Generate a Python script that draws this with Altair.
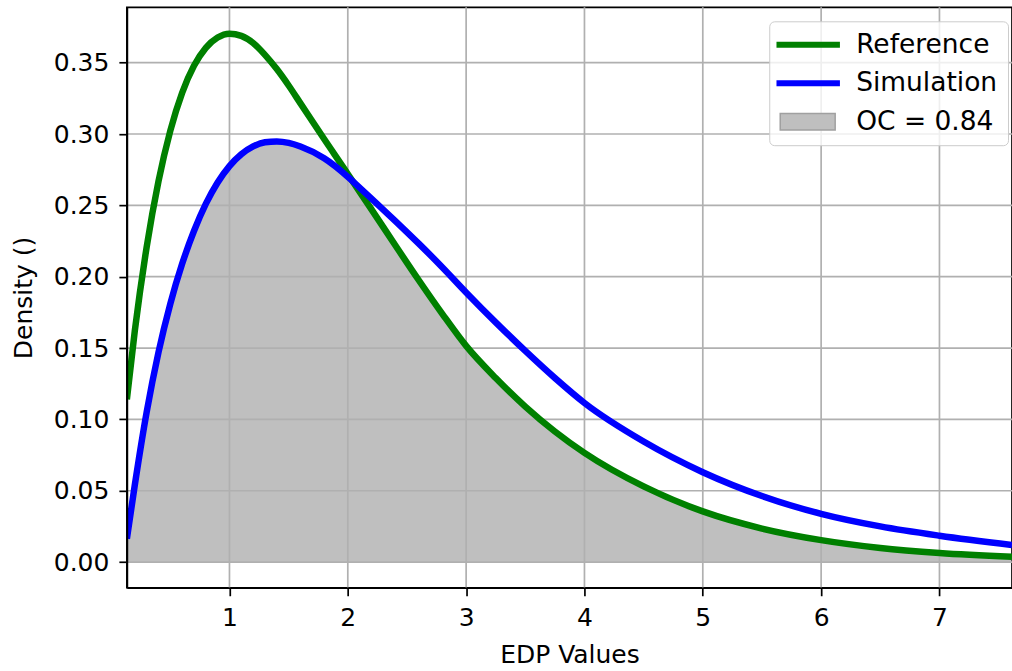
import altair as alt
import pandas as pd

# ---- values ----
edp = [0.133, 0.2, 0.3, 0.4, 0.5, 0.6, 0.7, 0.8, 0.9,
       1.0, 1.1, 1.2, 1.3, 1.4, 1.5, 1.6, 1.8, 2.0, 2.04,
       2.2, 2.4, 2.6, 2.8, 3.0, 3.25, 3.5, 3.75, 4.0, 4.5,
       5.0, 5.5, 6.0, 6.5, 7.0, 7.613]
reference = [0.114, 0.162, 0.2207, 0.2668, 0.3023, 0.3289, 0.3478, 0.3604, 0.3676,
             0.3703, 0.3688, 0.3638, 0.3555, 0.3455, 0.3340, 0.3215, 0.2965, 0.2720, 0.2670,
             0.2472, 0.2222, 0.1975, 0.1738, 0.1515, 0.1290, 0.1090, 0.0915, 0.0765, 0.0530,
             0.0355, 0.0235, 0.0154, 0.0099, 0.0064, 0.0037]
simulation = [0.0164, 0.054, 0.105, 0.147, 0.181, 0.209, 0.232, 0.251, 0.266,
              0.2775, 0.2858, 0.2913, 0.2942, 0.2948, 0.2938, 0.2912, 0.2830, 0.2700, 0.2670,
              0.2548, 0.2392, 0.2232, 0.2065, 0.1890, 0.1680, 0.1480, 0.1290, 0.1115, 0.0845,
              0.0630, 0.0463, 0.0338, 0.0250, 0.0185, 0.0120]

x_ticks = [1, 2, 3, 4, 5, 6, 7]
y_ticks = [0.0, 0.05, 0.10, 0.15, 0.20, 0.25, 0.30, 0.35]
legend_labels = ["Reference", "Simulation", "OC = 0.84"]
legend_fill = ["#008000", "#0000ff", "#bfbfbf"]
legend_stroke = ["#008000", "#0000ff", "#a0a0a0"]

X_DOMAIN = [0.133, 7.613]
Y_DOMAIN = [-0.018, 0.3888]
FONT = "DejaVu Sans"

df = pd.DataFrame({"x": edp, "ref": reference, "sim": simulation})
df["overlap"] = df[["ref", "sim"]].min(axis=1)

xs = alt.Scale(domain=X_DOMAIN, nice=False, zero=False)
ys = alt.Scale(domain=Y_DOMAIN, nice=False, zero=False)

x_axis = alt.Axis(values=x_ticks, format="d", grid=False, zindex=1,
                  title="EDP Values", titleBaseline="alphabetic", titleY=75)
y_axis = alt.Axis(values=y_ticks, format=".2f", grid=False, zindex=1,
                  title="Density ()", titleX=-95.5, titleY=290.5,
                  titleBaseline="alphabetic", titleAngle=270)

base = alt.Chart(df)

area = base.mark_area(color="#808080", opacity=0.5, interpolate="monotone", clip=True).encode(
    x=alt.X("x:Q", scale=xs, axis=x_axis),
    y=alt.Y("overlap:Q", scale=ys, axis=y_axis),
    y2=alt.datum(0),
)

gx = alt.Chart(pd.DataFrame({"v": x_ticks})).mark_rule(color="#b0b0b0", strokeWidth=1.7).encode(
    x=alt.X("v:Q", scale=xs))
gy = alt.Chart(pd.DataFrame({"v": y_ticks})).mark_rule(color="#b0b0b0", strokeWidth=1.7).encode(
    y=alt.Y("v:Q", scale=ys))

ref_line = base.mark_line(color="#008000", strokeWidth=6.5, interpolate="monotone", clip=True).encode(
    x=alt.X("x:Q", scale=xs), y=alt.Y("ref:Q", scale=ys))
sim_line = base.mark_line(color="#0000ff", strokeWidth=6.5, interpolate="monotone", clip=True).encode(
    x=alt.X("x:Q", scale=xs), y=alt.Y("sim:Q", scale=ys))

line_path = "M-1.24,-0.18L3.72,-0.18L3.72,0.18L-1.24,0.18Z"
rect_path = "M-1.0,-0.66L3.4,-0.66L3.4,0.66L-1.0,0.66Z"

leg = alt.Legend(title=None, orient="none", legendX=643, legendY=14,
                 padding=10, fillColor="rgba(255,255,255,0.8)", strokeColor="#cccccc",
                 cornerRadius=5, labelFont=FONT, labelFontSize=26.5, labelColor="black",
                 labelOffset=50, rowPadding=11.5, symbolSize=625, symbolStrokeWidth=1.5,
                 symbolOpacity=1, labelLimit=400)

leg_df = pd.DataFrame({"series": legend_labels, "x": [1, 1, 1], "y": [-1, -1, -1]})
legend_layer = alt.Chart(leg_df).mark_point(filled=True, clip=True, size=625, opacity=1,
                                            strokeWidth=1.5).encode(
    x=alt.X("x:Q", scale=xs),
    y=alt.Y("y:Q", scale=ys),
    fill=alt.Fill("series:N", scale=alt.Scale(domain=legend_labels, range=legend_fill), legend=leg),
    stroke=alt.Stroke("series:N", scale=alt.Scale(domain=legend_labels, range=legend_stroke), legend=leg),
    shape=alt.Shape("series:N", scale=alt.Scale(domain=legend_labels, range=[line_path, line_path, rect_path]), legend=leg),
)

chart = alt.layer(area, gx, gy, ref_line, sim_line, legend_layer).properties(
    width=886, height=581,
    padding={"left": 127, "top": 7, "right": 0, "bottom": 83},
    autosize=alt.AutoSizeParams(type="none"),
    background="white",
).configure_view(stroke="black", strokeWidth=1.7).configure_axis(
    labelFont=FONT, labelFontSize=25, labelColor="black", labelPadding=10,
    titleFont=FONT, titleFontSize=25, titleFontWeight="normal", titleColor="black",
    tickColor="black", tickWidth=1.7, tickSize=8,
    domainColor="black", domainWidth=1.7,
)

chart.save("out.html", embed_options={"renderer": "svg", "actions": False})
